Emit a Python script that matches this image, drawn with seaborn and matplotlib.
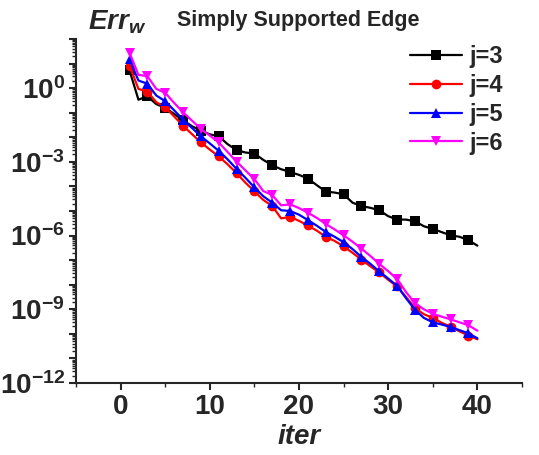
import numpy as np
import pandas as pd
import matplotlib
matplotlib.use("Agg")
import matplotlib.pyplot as plt
import matplotlib.ticker as mticker
import seaborn as sns

iters = list(range(1, 41))
# log10 of Err_w
log_err_j3 = [0.72, -0.47, -0.33, -0.65, -0.80, -1.05, -1.30, -1.55, -1.73, -1.88,
              -1.96, -2.28, -2.52, -2.62, -2.66, -2.92, -3.14, -3.30, -3.41, -3.53,
              -3.68, -3.95, -4.21, -4.25, -4.32, -4.66, -4.80, -4.87, -4.97, -5.21,
              -5.35, -5.35, -5.42, -5.62, -5.73, -5.86, -5.99, -6.05, -6.19, -6.41]
log_err_j4 = [0.92, -0.03, -0.14, -0.57, -0.78, -1.15, -1.53, -1.87, -2.21, -2.50,
              -2.78, -3.10, -3.46, -3.85, -4.20, -4.55, -4.80, -5.30, -5.24, -5.40,
              -5.59, -5.80, -6.05, -6.22, -6.44, -6.70, -6.98, -7.25, -7.50, -7.80,
              -8.07, -8.50, -8.95, -9.20, -9.35, -9.55, -9.71, -9.90, -10.07, -10.22]
log_err_j5 = [1.17, 0.31, 0.18, -0.30, -0.53, -0.90, -1.28, -1.62, -1.96, -2.25,
              -2.55, -2.90, -3.29, -3.65, -4.04, -4.40, -4.66, -4.97, -5.00, -5.15,
              -5.37, -5.60, -5.85, -6.05, -6.27, -6.55, -6.87, -7.15, -7.46, -7.75,
              -8.05, -8.55, -9.02, -9.35, -9.53, -9.62, -9.72, -9.85, -9.98, -10.18]
log_err_j6 = [1.44, 0.54, 0.49, -0.03, -0.19, -0.60, -0.98, -1.32, -1.66, -1.93,
              -2.21, -2.60, -2.99, -3.35, -3.70, -4.19, -4.35, -4.77, -4.73, -4.88,
              -5.07, -5.28, -5.53, -5.75, -5.99, -6.25, -6.53, -6.83, -7.15, -7.45,
              -7.77, -8.30, -8.75, -9.00, -9.18, -9.30, -9.41, -9.53, -9.65, -9.87]
series_names = ["j=3", "j=4", "j=5", "j=6"]
colors = ["#000000", "#ff0000", "#0000ff", "#ff00ff"]
markers = ["s", "o", "^", "v"]
x_ticks = [0, 10, 20, 30, 40]
y_label_exps = [0, -3, -6, -9, -12]

rows = []
for name, vals in zip(series_names, [log_err_j3, log_err_j4, log_err_j5, log_err_j6]):
    for it, lv in zip(iters, vals):
        rows.append({"iter": it, "err": 10.0 ** lv, "j": name})
df = pd.DataFrame(rows)

sns.set_style("ticks")
plt.rcParams["font.family"] = ["Liberation Sans", "DejaVu Sans"]
plt.rcParams["font.weight"] = "bold"
plt.rcParams["mathtext.fontset"] = "custom"
plt.rcParams["mathtext.rm"] = "Liberation Sans:bold"
plt.rcParams["mathtext.bf"] = "Liberation Sans:bold"
plt.rcParams["mathtext.it"] = "Liberation Sans:bold:italic"

fig = plt.figure(figsize=(5.39, 4.55), dpi=100)
ax = fig.add_axes([76 / 539, 72 / 455, (522 - 76) / 539, (383 - 39) / 455])

sns.lineplot(data=df, x="iter", y="err", hue="j", style="j",
             palette=colors, markers=markers, dashes=False,
             linewidth=1.6, markersize=7, markeredgewidth=0,
             markevery=2, ax=ax, legend=False)

ax.set_yscale("log")
ax.set_ylim(1e-12, 1e2)
ax.set_xlim(-5, 45)

ax.xaxis.set_major_locator(mticker.FixedLocator(x_ticks))
ax.xaxis.set_minor_locator(mticker.FixedLocator([-5, 5, 15, 25, 35, 45]))
ax.yaxis.set_major_locator(mticker.FixedLocator([10.0 ** e for e in range(-12, 3)]))
ax.yaxis.set_minor_locator(mticker.LogLocator(base=10, subs=np.arange(2, 10), numticks=100))
ax.yaxis.set_minor_formatter(mticker.NullFormatter())

def yfmt(v, pos):
    e = int(round(np.log10(v)))
    if e in y_label_exps:
        return r"$\mathbf{10^{%d}}$" % e
    return ""
ax.yaxis.set_major_formatter(mticker.FuncFormatter(yfmt))

ax.tick_params(axis="both", which="major", direction="out", length=5, width=1.5,
               labelsize=20, pad=3)
ax.tick_params(axis="both", which="minor", direction="out", length=3, width=1.0)
for lbl in ax.get_xticklabels():
    lbl.set_fontweight("bold")

for s in ["top", "right"]:
    ax.spines[s].set_visible(False)
for s in ["left", "bottom"]:
    ax.spines[s].set_linewidth(1.5)

ax.set_xlabel("iter", fontsize=20, fontstyle="italic", fontweight="bold", labelpad=3)
ax.set_ylabel("")

fig.text(0.218, 0.950, r"$Err_w$", fontsize=20, ha="center", va="center")
fig.text(0.553, 0.955, "Simply Supported Edge", fontsize=15.5, fontweight="bold",
         ha="center", va="center")

handles = [plt.Line2D([], [], color=c, marker=m, linewidth=1.6, markersize=7,
                      markeredgewidth=0) for c, m in zip(colors, markers)]
leg = ax.legend(handles, series_names, loc="upper right", frameon=False,
                prop={"weight": "bold", "size": 17}, handlelength=2.2,
                labelspacing=0.25, handletextpad=0.3, borderaxespad=0.0,
                bbox_to_anchor=(0.978, 1.01))

fig.savefig("out.png", dpi=100)
